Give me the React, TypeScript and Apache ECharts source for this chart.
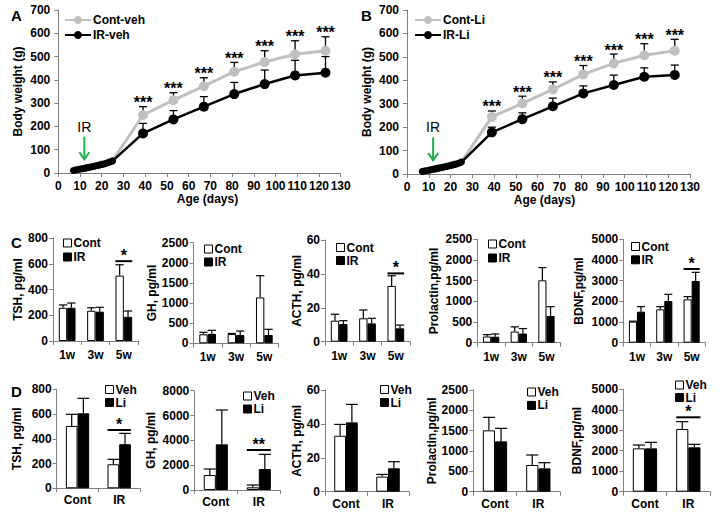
import React, { useEffect, useRef } from 'react';
import * as echarts from 'echarts';

const FONT = 'Arial, "Liberation Sans", Helvetica, sans-serif';
const AXIS_GRAY = '#808080';
const LIGHT = '#c0c0c0';
const GREEN = '#1fae4f';

// ---------- Panels A / B: body weight ----------
const earlyDays = [7, 8, 9, 10, 11, 12, 13, 14, 15, 16, 17, 18, 19, 20, 21, 22, 23, 24, 25];
const weeklyDays = [39, 53, 67, 81, 95, 109, 123];
const ageTicks = { min: 0, max: 130, interval: 10 };
const weightTicks = { min: 0, max: 700, interval: 100 };

const contVehEarly = [12, 14, 15, 17, 19, 21, 23, 25, 27, 29, 31, 33, 35, 38, 40, 43, 46, 49, 53];
const irVehEarly = [11, 13, 15, 17, 18, 20, 22, 24, 26, 28, 30, 32, 34, 37, 39, 42, 45, 48, 52];
const contVehWeekly = [249, 313, 373, 435, 477, 510, 525];
const contVehSd = [36, 32, 36, 40, 48, 58, 60];
const irVehWeekly = [170, 230, 285, 339, 382, 419, 431];
const irVehSd = [43, 38, 43, 50, 60, 65, 69];
const starsA = ['***', '***', '***', '***', '***', '***', '***'];

const contLiEarly = [12, 13, 15, 17, 19, 21, 23, 25, 27, 29, 31, 33, 35, 37, 40, 42, 45, 48, 52];
const irLiEarly = [11, 13, 14, 16, 18, 20, 22, 24, 26, 28, 30, 32, 34, 36, 39, 41, 44, 47, 51];
const contLiWeekly = [244, 301, 361, 425, 472, 507, 526];
const contLiSd = [25, 31, 32, 38, 40, 49, 49];
const irLiWeekly = [178, 234, 289, 344, 380, 415, 423];
const irLiSd = [22, 27, 35, 32, 42, 38, 42];
const starsB = ['***', '***', '***', '***', '***', '***', '***'];

// IR irradiation arrow annotation (day, arrow top, arrow tip, label value)
const irMark = [12, 156, 59, 199];

// ---------- Panel C: hormones by week ----------
const weekCats = ['1w', '3w', '5w'];
const tshCont = [258, 235, 508];
const tshContSd = [22, 23, 84];
const tshIr = [258, 228, 188];
const tshIrSd = [37, 34, 45];
const tshCSig = [2, 620, '*'];

const ghCont = [224, 230, 1140];
const ghContSd = [49, 15, 540];
const ghIr = [235, 206, 206];
const ghIrSd = [88, 99, 142];

const acthCont = [12.4, 13.8, 32.9];
const acthContSd = [3.8, 4.9, 6.0];
const acthIr = [10.4, 10.8, 7.9];
const acthIrSd = [2.0, 3.0, 1.9];
const acthCSig = [2, 40.3, '*'];

const prlCont = [150, 270, 1508];
const prlContSd = [45, 113, 307];
const prlIr = [145, 222, 645];
const prlIrSd = [65, 120, 226];

const bdnfCont = [1020, 1613, 2097];
const bdnfContSd = [20, 129, 129];
const bdnfIr = [1500, 2016, 2984];
const bdnfIrSd = [242, 323, 419];
const bdnfCSig = [2, 3565, '*'];

// ---------- Panel D: vehicle vs lithium ----------
const groupCats = ['Cont', 'IR'];
const tshVeh = [504, 194];
const tshVehSd = [94, 40];
const tshLi = [606, 356];
const tshLiSd = [121, 88];
const tshDSig = [1, 471, '*'];

const ghVeh = [1208, 215];
const ghVehSd = [483, 188];
const ghLi = [3678, 1691];
const ghLiSd = [2765, 1181];
const ghDSig = [1, 3221, '**'];

const acthVeh = [33, 8.9];
const acthVehSd = [6.7, 1.3];
const acthLi = [40.9, 13.8];
const acthLiSd = [10.6, 3.9];

const prlVeh = [1508, 656];
const prlVehSd = [320, 246];
const prlLi = [1238, 574];
const prlLiSd = [319, 139];

const bdnfVeh = [2117, 3062];
const bdnfVehSd = [163, 358];
const bdnfLi = [2117, 2166];
const bdnfLiSd = [293, 147];
const bdnfDSig = [1, 3632, '*'];

// ---------- layout ----------
const linePanels = [
  {
    names: ['Cont-veh', 'IR-veh'], contEarly: contVehEarly, irEarly: irVehEarly,
    contW: contVehWeekly, contSd: contVehSd, irW: irVehWeekly, irSd: irVehSd, stars: starsA,
    box: { left: 58.3, top: 10, width: 282.4, height: 163 }, legend: { left: 64, top: 14 },
    nameGap: 34, xNamePad: [0, 0, 0, 16],
  },
  {
    names: ['Cont-Li', 'IR-Li'], contEarly: contLiEarly, irEarly: irLiEarly,
    contW: contLiWeekly, contSd: contLiSd, irW: irLiWeekly, irSd: irLiSd, stars: starsB,
    box: { left: 407, top: 10, width: 283, height: 164 }, legend: { left: 414, top: 14 },
    nameGap: 34, xNamePad: [0, 8, 0, 0],
  },
];

const barPanels = [
  { cats: weekCats, names: ['Cont', 'IR'], a: tshCont, aSd: tshContSd, b: tshIr, bSd: tshIrSd, sig: tshCSig,
    yName: 'TSH, pg/ml', max: 800, interval: 200, box: { left: 53, top: 238, width: 85, height: 103 },
    nameGap: 28, legend: { left: 63, top: 237, gap: 2 }, gap: 0.41, labelMargin: 8 },
  { cats: weekCats, names: ['Cont', 'IR'], a: ghCont, aSd: ghContSd, b: ghIr, bSd: ghIrSd, sig: null,
    yName: 'GH, pg/ml', max: 2500, interval: 500, box: { left: 193.5, top: 242.7, width: 85, height: 100.6 },
    nameGap: 36, legend: { left: 204, top: 243, gap: 1 }, gap: 0.41, labelMargin: 8 },
  { cats: weekCats, names: ['Cont', 'IR'], a: acthCont, aSd: acthContSd, b: acthIr, bSd: acthIrSd, sig: acthCSig,
    yName: 'ACTH, pg/ml', max: 60, interval: 20, box: { left: 325, top: 240, width: 85, height: 101.7 },
    nameGap: 20, legend: { left: 336, top: 241.5, gap: 1 }, gap: 0.41, labelMargin: 8 },
  { cats: weekCats, names: ['Cont', 'IR'], a: prlCont, aSd: prlContSd, b: prlIr, bSd: prlIrSd, sig: null,
    yName: 'Prolactin,pg/ml', max: 2500, interval: 500, box: { left: 477.3, top: 239.3, width: 83, height: 103.4 },
    nameGap: 37, legend: { left: 488, top: 238, gap: 2 }, gap: 0.41, labelMargin: 8 },
  { cats: weekCats, names: ['Cont', 'IR'], a: bdnfCont, aSd: bdnfContSd, b: bdnfIr, bSd: bdnfIrSd, sig: bdnfCSig,
    yName: 'BDNF,pg/ml', max: 5000, interval: 1000, box: { left: 623.3, top: 239.3, width: 82, height: 103.4 },
    nameGap: 38, legend: { left: 631, top: 240.5, gap: 1.3 }, gap: 0.41, labelMargin: 8 },

  { cats: groupCats, names: ['Veh', 'Li'], a: tshVeh, aSd: tshVehSd, b: tshLi, bSd: tshLiSd, sig: tshDSig,
    yName: 'TSH, pg/ml', max: 800, interval: 200, box: { left: 56.7, top: 389.3, width: 83.3, height: 99 },
    nameGap: 34, legend: { left: 105, top: 383.5, gap: 1 }, gap: 0.44, labelMargin: 6 },
  { cats: groupCats, names: ['Veh', 'Li'], a: ghVeh, aSd: ghVehSd, b: ghLi, bSd: ghLiSd, sig: ghDSig,
    yName: 'GH, pg/ml', max: 8000, interval: 2000, box: { left: 194.3, top: 390.7, width: 86, height: 99.3 },
    nameGap: 37, legend: { left: 243, top: 390, gap: 1 }, gap: 0.44, labelMargin: 6 },
  { cats: groupCats, names: ['Veh', 'Li'], a: acthVeh, aSd: acthVehSd, b: acthLi, bSd: acthLiSd, sig: null,
    yName: 'ACTH, pg/ml', max: 60, interval: 20, box: { left: 325, top: 390, width: 84, height: 101.7 },
    nameGap: 20, legend: { left: 380, top: 383.5, gap: 1 }, gap: 0.44, labelMargin: 6 },
  { cats: groupCats, names: ['Veh', 'Li'], a: prlVeh, aSd: prlVehSd, b: prlLi, bSd: prlLiSd, sig: null,
    yName: 'Prolactin,pg/ml', max: 2500, interval: 500, box: { left: 473.3, top: 390, width: 86.7, height: 101.7 },
    nameGap: 33, legend: { left: 527, top: 386, gap: 1.4 }, gap: 0.44, labelMargin: 6 },
  { cats: groupCats, names: ['Veh', 'Li'], a: bdnfVeh, aSd: bdnfVehSd, b: bdnfLi, bSd: bdnfLiSd, sig: bdnfDSig,
    yName: 'BDNF,pg/ml', max: 5000, interval: 1000, box: { left: 623.3, top: 389.3, width: 86.7, height: 102.4 },
    nameGap: 40, legend: { left: 675, top: 379, gap: 0.5 }, gap: 0.44, labelMargin: 6 },
];

const panelLetters = [
  { text: 'A', x: 11, y: 15 },
  { text: 'B', x: 361, y: 15 },
  { text: 'C', x: 11, y: 242 },
  { text: 'D', x: 11, y: 391 },
];

const boldText = (size: number) => ({ fontFamily: FONT, fontWeight: 'bold' as const, fontSize: size, color: '#000' });
const axisLine = { show: true, lineStyle: { color: AXIS_GRAY, width: 1 } };
const axisTick = { show: true, inside: false, length: 4, lineStyle: { color: AXIS_GRAY, width: 1 } };
const plain = (v: number) => String(v);

function buildOption() {
  const grid: any[] = [];
  const xAxis: any[] = [];
  const yAxis: any[] = [];
  const series: any[] = [];
  const legend: any[] = [];

  linePanels.forEach((p, gi) => {
    grid.push({ ...p.box, containLabel: false, outerBoundsMode: 'none' });
    xAxis.push({
      type: 'value', gridIndex: gi, ...ageTicks,
      axisLine, axisTick, splitLine: { show: false },
      axisLabel: { ...boldText(12), margin: 7, formatter: plain },
      name: 'Age (days)', nameLocation: 'middle', nameGap: 20,
      nameTextStyle: { ...boldText(12), padding: p.xNamePad },
    });
    yAxis.push({
      type: 'value', gridIndex: gi, ...weightTicks,
      axisLine, axisTick, splitLine: { show: false },
      axisLabel: { ...boldText(12), margin: 8, formatter: plain },
      name: 'Body weight (g)', nameLocation: 'middle', nameGap: p.nameGap,
      nameTextStyle: boldText(12),
    });
    const contData = earlyDays.map((d, i) => [d, p.contEarly[i]]).concat(weeklyDays.map((d, i) => [d, p.contW[i]]));
    const irData = earlyDays.map((d, i) => [d, p.irEarly[i]]).concat(weeklyDays.map((d, i) => [d, p.irW[i]]));
    const symSize = (v: number[]) => (v[0] < 30 ? 7 : 10);
    const errRender = (params: any, api: any) => {
      const a = api.coord([api.value(0), api.value(1)]);
      const t = api.coord([api.value(0), api.value(2)]);
      const st = { stroke: '#000', lineWidth: 1.3 };
      return {
        type: 'group', children: [
          { type: 'line', shape: { x1: a[0], y1: a[1], x2: t[0], y2: t[1] }, style: st },
          { type: 'line', shape: { x1: t[0] - 4, y1: t[1], x2: t[0] + 4, y2: t[1] }, style: st },
        ],
      };
    };
    series.push({
      type: 'custom', name: 'errC' + gi, xAxisIndex: gi, yAxisIndex: gi, silent: true, clip: false, z: 2,
      data: weeklyDays.map((d, i) => [d, p.contW[i], p.contW[i] + p.contSd[i]]), renderItem: errRender,
    });
    series.push({
      type: 'custom', name: 'errI' + gi, xAxisIndex: gi, yAxisIndex: gi, silent: true, clip: false, z: 2,
      data: weeklyDays.map((d, i) => [d, p.irW[i], p.irW[i] + p.irSd[i]]), renderItem: errRender,
    });
    series.push({
      type: 'line', name: p.names[0], xAxisIndex: gi, yAxisIndex: gi, data: contData, z: 3,
      symbol: 'circle', symbolSize: symSize, showSymbol: true,
      lineStyle: { color: LIGHT, width: 3 }, itemStyle: { color: LIGHT },
    });
    series.push({
      type: 'line', name: p.names[1], xAxisIndex: gi, yAxisIndex: gi, data: irData, z: 4,
      symbol: 'circle', symbolSize: symSize, showSymbol: true,
      lineStyle: { color: '#000', width: 2.5 }, itemStyle: { color: '#000' },
    });
    series.push({
      type: 'custom', name: 'stars' + gi, xAxisIndex: gi, yAxisIndex: gi, silent: true, clip: false, z: 5,
      data: weeklyDays.map((d, i) => [d, p.contW[i] + p.contSd[i]]),
      renderItem: (params: any, api: any) => {
        const c = api.coord([api.value(0), api.value(1)]);
        return {
          type: 'text', x: c[0], y: c[1] - 4,
          style: { text: p.stars[params.dataIndex], fontFamily: FONT, fontWeight: 'bold', fontSize: 16, fill: '#000', align: 'center', verticalAlign: 'middle' },
        };
      },
    });
    series.push({
      type: 'custom', name: 'irArrow' + gi, xAxisIndex: gi, yAxisIndex: gi, silent: true, clip: false, z: 6,
      data: [irMark],
      renderItem: (params: any, api: any) => {
        const top = api.coord([api.value(0), api.value(1)]);
        const tip = api.coord([api.value(0), api.value(2)]);
        const lab = api.coord([api.value(0), api.value(3)]);
        const st = { stroke: GREEN, lineWidth: 2, fill: 'none' };
        return {
          type: 'group', children: [
            { type: 'line', shape: { x1: top[0], y1: top[1], x2: tip[0], y2: tip[1] - 1 }, style: st },
            { type: 'polyline', shape: { points: [[tip[0] - 5, tip[1] - 7], [tip[0], tip[1]], [tip[0] + 5, tip[1] - 7]] }, style: st },
            { type: 'text', x: lab[0], y: lab[1], style: { text: 'IR', fontFamily: FONT, fontSize: 14, fill: '#000', align: 'center', verticalAlign: 'middle' } },
          ],
        };
      },
    });
    legend.push({
      data: p.names, orient: 'vertical', left: p.legend.left, top: p.legend.top, padding: 0,
      itemGap: 3, itemWidth: 26, itemHeight: 10, selectedMode: false,
      textStyle: { ...boldText(12), padding: [0, 0, 0, -3] },
    });
  });

  barPanels.forEach((p, k) => {
    const gi = k + linePanels.length;
    grid.push({ ...p.box, containLabel: false, outerBoundsMode: 'none' });
    xAxis.push({
      type: 'category', gridIndex: gi, data: p.cats,
      axisLine, axisTick: { ...axisTick, alignWithLabel: false, interval: 0 },
      axisLabel: { ...boldText(12), margin: p.labelMargin, interval: 0 },
    });
    yAxis.push({
      type: 'value', gridIndex: gi, min: 0, max: p.max, interval: p.interval,
      axisLine, axisTick, splitLine: { show: false },
      axisLabel: { ...boldText(12), margin: 5, formatter: plain },
      name: p.yName, nameLocation: 'middle', nameGap: p.nameGap, nameTextStyle: boldText(12),
    });
    const catGap = `${p.gap * 100}%`;
    series.push({
      type: 'bar', name: p.names[0], xAxisIndex: gi, yAxisIndex: gi, data: p.a, z: 2,
      barGap: '0%', barCategoryGap: catGap,
      itemStyle: { color: '#fff', borderColor: '#000', borderWidth: 1 },
    });
    series.push({
      type: 'bar', name: p.names[1], xAxisIndex: gi, yAxisIndex: gi, data: p.b, z: 2,
      barGap: '0%', barCategoryGap: catGap,
      itemStyle: { color: '#000', borderColor: '#000', borderWidth: 1 },
    });
    const makeErr = (sign: number) => (params: any, api: any) => {
      const band = api.size([1, 0])[0];
      const barW = (band * (1 - p.gap)) / 2;
      const a = api.coord([api.value(0), api.value(1)]);
      const t = api.coord([api.value(0), api.value(2)]);
      const x = a[0] + (sign * barW) / 2;
      const st = { stroke: '#000', lineWidth: 1.2 };
      return {
        type: 'group', children: [
          { type: 'line', shape: { x1: x, y1: a[1], x2: x, y2: t[1] }, style: st },
          { type: 'line', shape: { x1: x - barW / 2, y1: t[1], x2: x + barW / 2, y2: t[1] }, style: st },
        ],
      };
    };
    series.push({
      type: 'custom', name: 'errA' + gi, xAxisIndex: gi, yAxisIndex: gi, silent: true, clip: false, z: 3,
      data: p.a.map((v, i) => [i, v, v + p.aSd[i]]), renderItem: makeErr(-1),
    });
    series.push({
      type: 'custom', name: 'errB' + gi, xAxisIndex: gi, yAxisIndex: gi, silent: true, clip: false, z: 3,
      data: p.b.map((v, i) => [i, v, v + p.bSd[i]]), renderItem: makeErr(1),
    });
    if (p.sig) {
      const sig = p.sig as any[];
      series.push({
        type: 'custom', name: 'sig' + gi, xAxisIndex: gi, yAxisIndex: gi, silent: true, clip: false, z: 4,
        data: [[sig[0], sig[1]]],
        renderItem: (params: any, api: any) => {
          const band = api.size([1, 0])[0];
          const barW = (band * (1 - p.gap)) / 2;
          const c = api.coord([api.value(0), api.value(1)]);
          return {
            type: 'group', children: [
              { type: 'line', shape: { x1: c[0] - barW, y1: c[1], x2: c[0] + barW, y2: c[1] }, style: { stroke: '#000', lineWidth: 2 } },
              { type: 'text', x: c[0], y: c[1] + 2.5, style: { text: sig[2], fontFamily: FONT, fontWeight: 'bold', fontSize: 16, fill: '#000', align: 'center', verticalAlign: 'bottom' } },
            ],
          };
        },
      });
    }
    legend.push({
      data: p.names, orient: 'vertical', left: p.legend.left, top: p.legend.top, padding: 0,
      itemGap: p.legend.gap, itemWidth: 8, itemHeight: 8, icon: 'rect', selectedMode: false,
      itemStyle: { borderWidth: 1 },
      textStyle: { ...boldText(12), padding: [0, 0, 0, -3] },
    });
  });

  return {
    animation: false,
    backgroundColor: '#fff',
    textStyle: { fontFamily: FONT },
    grid, xAxis, yAxis, series, legend,
    graphic: panelLetters.map((l) => ({
      type: 'text', x: l.x, y: l.y,
      style: { text: l.text, fontFamily: FONT, fontWeight: 'bold', fontSize: 15, fill: '#000', align: 'left', verticalAlign: 'middle' },
    })),
  };
}

export default function App() {
  const ref = useRef<HTMLDivElement>(null);
  useEffect(() => {
    if (!ref.current) return;
    const chart = echarts.init(ref.current, null, { renderer: 'svg' });
    chart.setOption(buildOption() as any);
    return () => chart.dispose();
  }, []);
  return (
    <div
      ref={ref}
      style={{ position: 'fixed', left: 0, top: 0, width: 720, height: 528, background: '#fff' }}
    />
  );
}
